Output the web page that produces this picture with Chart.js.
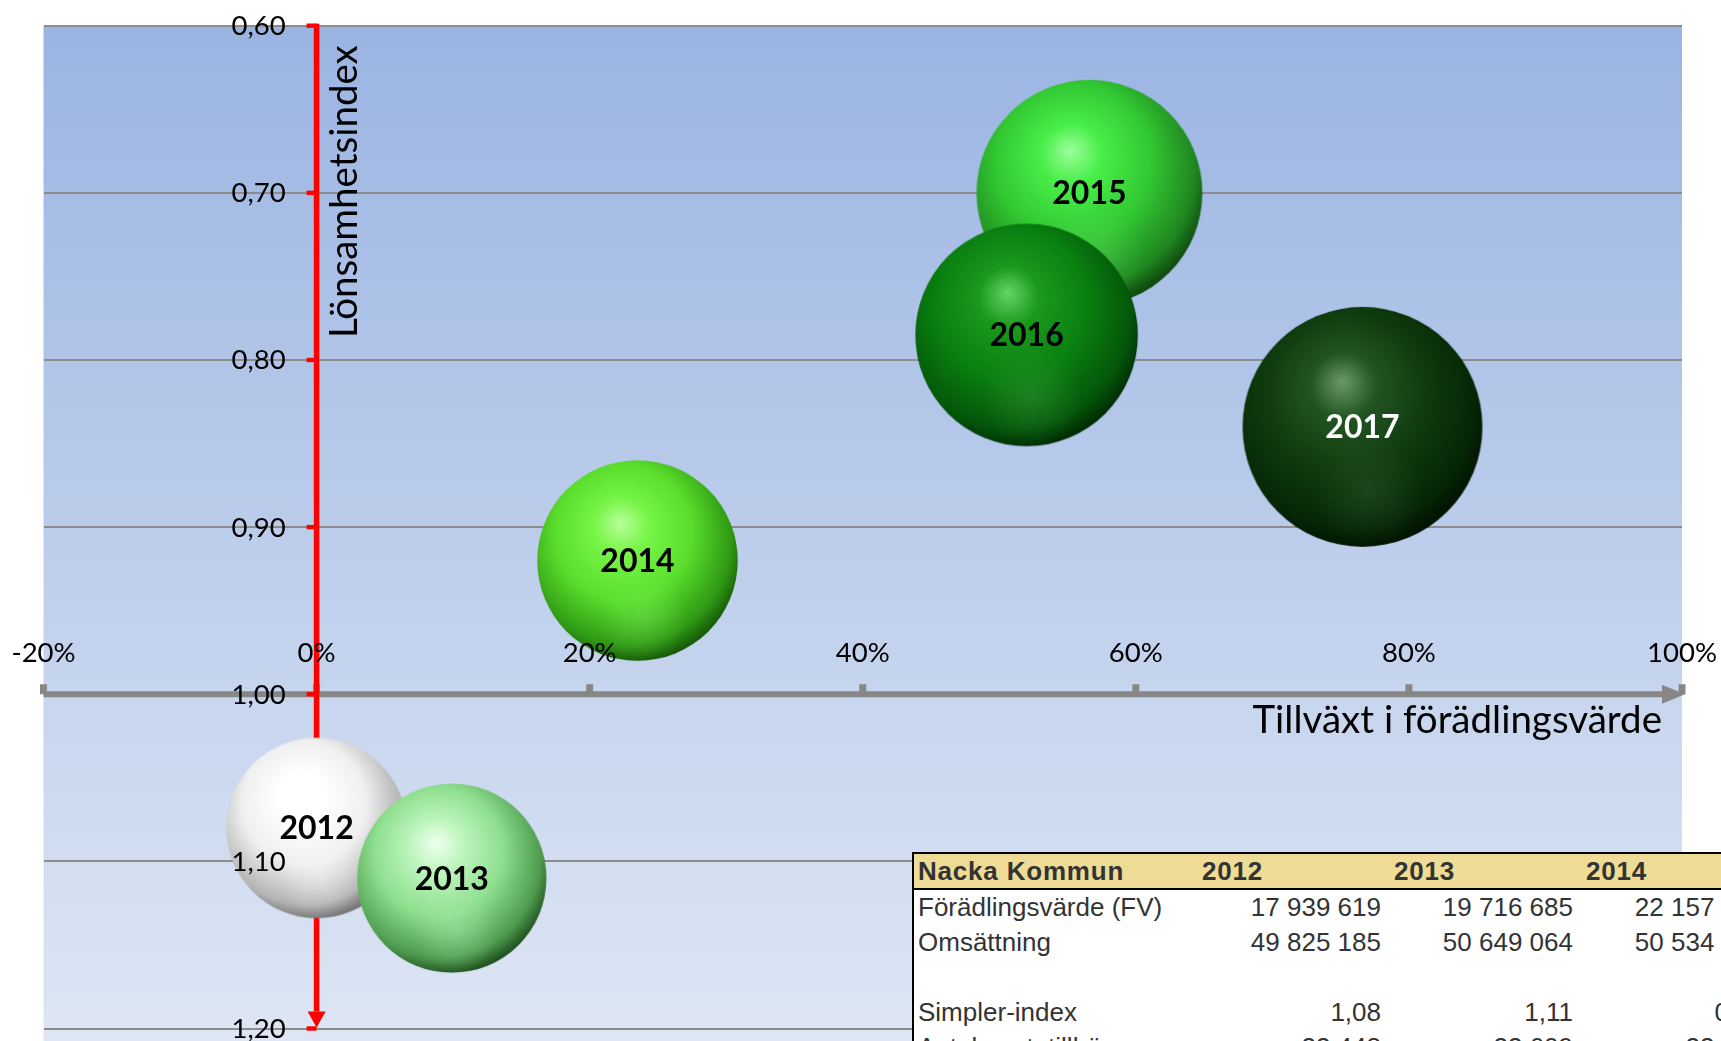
<!DOCTYPE html>
<html>
<head>
<meta charset="utf-8">
<script src="https://cdn.jsdelivr.net/npm/chart.js@4.4.1/dist/chart.umd.min.js"></script>
<style>
  html, body { margin:0; padding:0; width:1721px; height:1041px; overflow:hidden; background:#ffffff; }
  #wrap { position:relative; width:1721px; height:1041px; overflow:hidden; }
  #chart { position:absolute; left:0; top:0; }
  #tbl { position:absolute; left:912px; top:852px; width:855px; box-sizing:border-box;
         border-collapse:separate; border-spacing:0;
         table-layout:fixed; background:#ffffff; color:#333333;
         font-family:'Liberation Sans', Arial, sans-serif; font-size:26px;
         border-left:2px solid #000; border-top:2px solid #000; }
  #tbl th { height:34px; line-height:34px; padding:0; background:#eedc96; border-bottom:2px solid #000;
            text-align:left; font-weight:bold; white-space:nowrap; overflow:visible; letter-spacing:0.8px; }
  #tbl th.lab { padding-left:4px; }
  #tbl th.yr { padding-left:11px; }
  #tbl td { height:35px; line-height:35px; padding:0; white-space:nowrap; overflow:visible; }
  #tbl td.lab { padding-left:4px; text-align:left; }
  #tbl td.num { padding-right:2px; text-align:right; }
</style>
</head>
<body>
<div id="wrap">
  <canvas id="chart" width="1721" height="1041"></canvas>
  <table id="tbl"><colgroup><col style="width:277px"><col style="width:192px"><col style="width:192px"><col style="width:192px"></colgroup><thead></thead><tbody></tbody></table>
</div>
<script>
// ---------------- data ----------------
const years        = ['2012', '2013', '2014', '2015', '2016', '2017'];
const growthFV     = [0.000, 0.099, 0.235, 0.566, 0.520, 0.766];   // Tillväxt i förädlingsvärde (x)
const profitIndex  = [1.08, 1.11, 0.92, 0.70, 0.785, 0.84];       // Lönsamhetsindex (y)
const valueAddedM  = [17.94, 19.72, 22.16, 28.1, 27.3, 31.7];     // Förädlingsvärde, MSEK (bubble size)

const xTickValues  = [-0.2, 0, 0.2, 0.4, 0.6, 0.8, 1.0];
const xTickLabels  = ['-20%', '0%', '20%', '40%', '60%', '80%', '100%'];
const yTickValues  = [0.6, 0.7, 0.8, 0.9, 1.0, 1.1, 1.2];
const yTickLabels  = ['0,60', '0,70', '0,80', '0,90', '1,00', '1,10', '1,20'];

const xTitle = 'Tillväxt i förädlingsvärde';
const yTitle = 'Lönsamhetsindex';

// table
const tableTitle   = 'Nacka Kommun';
const tableYears   = ['2012', '2013', '2014'];
const rowFV        = ['17 939 619', '19 716 685', '22 157 835'];
const rowOms       = ['49 825 185', '50 649 064', '50 534 412'];
const rowSimpler   = ['1,08', '1,11', '0,92'];
const rowAntal     = ['23 448', '23 609', '23 912'];
const tableRows = [
  ['Förädlingsvärde (FV)', rowFV],
  ['Omsättning', rowOms],
  ['', ['', '', '']],
  ['Simpler-index', rowSimpler],
  ['Antal anst. tillhör.', rowAntal]
];

// ---------------- styles ----------------
const R_PER_ROOT = 21.3;  // bubble radius (px) per sqrt(MSEK)
const palettes = [
  { hi:'#ffffff', light:'#ffffff', base:'#f0f0f0', dark:'#b4b4b4', edge:'#6e6e6e', glow:'255,255,255', text:'#000' },
  { hi:'#f0fff0', light:'#bff6bf', base:'#8fdf8f', dark:'#4f9c4f', edge:'#1c4a1c', glow:'180,240,180', text:'#000' },
  { hi:'#b8ff9a', light:'#78f548', base:'#5ade2c', dark:'#2f9814', edge:'#145408', glow:'130,240,100', text:'#000' },
  { hi:'#9cff9c', light:'#48ee48', base:'#33c933', dark:'#208620', edge:'#0d440d', glow:'100,220,100', text:'#000' },
  { hi:'#66d466', light:'#1a9a1d', base:'#0a8010', dark:'#04560a', edge:'#012803', glow:'70,160,70', text:'#000' },
  { hi:'#6a996a', light:'#225522', base:'#0f3b0f', dark:'#062606', edge:'#001200', glow:'60,100,60', text:'#fff' }
];

function makeSphere(r, p) {
  const s = Math.ceil(2 * r) + 2;
  const c = document.createElement('canvas');
  c.width = s; c.height = s;
  const g = c.getContext('2d');
  const cx = s / 2, cy = s / 2;
  g.save();
  g.beginPath(); g.arc(cx, cy, r, 0, Math.PI * 2); g.closePath(); g.clip();
  const grd = g.createRadialGradient(cx - 0.17 * r, cy - 0.38 * r, 0, cx - 0.12 * r, cy - 0.2 * r, 1.24 * r);
  grd.addColorStop(0, p.hi);
  grd.addColorStop(0.22, p.light);
  grd.addColorStop(0.55, p.base);
  grd.addColorStop(0.86, p.dark);
  grd.addColorStop(1, p.edge);
  g.fillStyle = grd; g.fillRect(0, 0, s, s);
  const g2 = g.createRadialGradient(cx + 0.05 * r, cy + 0.55 * r, 0, cx + 0.05 * r, cy + 0.55 * r, 0.45 * r);
  g2.addColorStop(0, 'rgba(' + p.glow + ',0.35)');
  g2.addColorStop(1, 'rgba(' + p.glow + ',0)');
  g.fillStyle = g2; g.fillRect(0, 0, s, s);
  g.restore();
  return c;
}

const points = years.map((y, i) => ({ x: growthFV[i], y: profitIndex[i], r: R_PER_ROOT * Math.sqrt(valueAddedM[i]) }));
const spheres = points.map((pt, i) => makeSphere(pt.r, palettes[i]));

// ---------------- plugins ----------------
const FONT = 'Lato, "Open Sans", sans-serif';

const bgPlugin = {
  id: 'bg',
  beforeDraw(chart) {
    const { ctx, chartArea: a } = chart;
    const h = chart.height;
    const grd = ctx.createLinearGradient(0, a.top, 0, h);
    grd.addColorStop(0, '#9ab4e2');
    grd.addColorStop(1, '#dee6f4');
    ctx.save();
    ctx.fillStyle = grd;
    ctx.fillRect(a.left, a.top, a.right - a.left, h - a.top);
    ctx.restore();
  }
};

const axesPlugin = {
  id: 'axes',
  beforeDatasetsDraw(chart) {
    const { ctx, chartArea: a, scales: { x, y } } = chart;
    const axisY = y.getPixelForValue(1.0);
    const x0 = x.getPixelForValue(0);
    ctx.save();
    // grey x axis
    ctx.fillStyle = '#878787';
    const tip = a.right + 3, base = a.right - 20;
    ctx.fillRect(a.left, axisY - 3, base - a.left, 6);
    ctx.beginPath(); ctx.moveTo(base, axisY - 9.5); ctx.lineTo(tip, axisY); ctx.lineTo(base, axisY + 9.5); ctx.closePath(); ctx.fill();
    xTickValues.forEach(v => { const px = x.getPixelForValue(v); ctx.fillRect(px - 3.5, axisY - 10, 7, 10); });
    // red y axis
    ctx.fillStyle = '#ff0000';
    const top = y.getPixelForValue(yTickValues[0]);
    const bot = y.getPixelForValue(yTickValues[yTickValues.length - 1]);
    const aBase = bot - 17;
    ctx.fillRect(x0 - 2.8, top - 2, 5.6, aBase - top + 2);
    ctx.beginPath(); ctx.moveTo(x0 - 9, aBase); ctx.lineTo(x0, bot - 1); ctx.lineTo(x0 + 9, aBase); ctx.closePath(); ctx.fill();
    yTickValues.forEach(v => { const py = y.getPixelForValue(v); ctx.fillRect(x0 - 10, py - 2.2, 10, 4.4); });
    ctx.restore();
  },
  afterDatasetsDraw(chart) {
    const { ctx, chartArea: a, scales: { x, y } } = chart;
    const axisY = y.getPixelForValue(1.0);
    const x0 = x.getPixelForValue(0);
    ctx.save();
    // bubble labels
    const meta = chart.getDatasetMeta(0);
    ctx.font = 'bold 32px ' + FONT;
    ctx.textAlign = 'center'; ctx.textBaseline = 'alphabetic';
    meta.data.forEach((el, i) => {
      ctx.fillStyle = palettes[i].text;
      ctx.fillText(years[i], el.x, el.y + 11.5);
    });
    // x tick labels
    ctx.fillStyle = '#000';
    ctx.font = '27.5px ' + FONT;
    ctx.textAlign = 'center';
    xTickValues.forEach((v, i) => ctx.fillText(xTickLabels[i], x.getPixelForValue(v), axisY - 32));
    // y tick labels
    ctx.textAlign = 'right';
    yTickValues.forEach((v, i) => ctx.fillText(yTickLabels[i], x0 - 31, y.getPixelForValue(v) + 9.5));
    // axis titles
    ctx.font = '38.5px ' + FONT;
    ctx.textAlign = 'right';
    ctx.fillText(xTitle, a.right - 20, axisY + 39);
    ctx.save();
    ctx.translate(x0 + 40, a.top + 166);
    ctx.rotate(-Math.PI / 2);
    ctx.textAlign = 'center';
    ctx.fillText(yTitle, 0, 0);
    ctx.restore();
    ctx.restore();
  }
};

// ---------------- chart ----------------
new Chart(document.getElementById('chart').getContext('2d'), {
  type: 'bubble',
  data: {
    datasets: [{
      label: tableTitle,
      data: points,
      pointStyle: (c) => spheres[c.dataIndex],
      backgroundColor: palettes.map(p => p.base),
      borderWidth: 0,
      clip: false
    }]
  },
  options: {
    responsive: false,
    animation: false,
    events: [],
    layout: { autoPadding: false, padding: { left: 43.5, right: 39, top: 25.7, bottom: 12.5 } },
    plugins: { legend: { display: false }, tooltip: { enabled: false } },
    scales: {
      x: { type: 'linear', min: -0.2, max: 1.0, display: false },
      y: {
        type: 'linear', min: 0.6, max: 1.2, reverse: true,
        ticks: { display: false, stepSize: 0.1 },
        grid: { color: '#8c8c8c', lineWidth: 2, drawTicks: false },
        border: { display: false }
      }
    }
  },
  plugins: [bgPlugin, axesPlugin]
});

// ---------------- table ----------------
(function buildTable() {
  const tbl = document.getElementById('tbl');
  const thead = tbl.querySelector('thead');
  const tbody = tbl.querySelector('tbody');
  let h = '<tr><th class="lab">' + tableTitle + '</th>';
  tableYears.forEach(yv => { h += '<th class="yr">' + yv + '</th>'; });
  thead.innerHTML = h + '</tr>';
  let b = '';
  tableRows.forEach(([lab, vals]) => {
    b += '<tr><td class="lab">' + (lab || '&nbsp;') + '</td>';
    vals.forEach(v => { b += '<td class="num">' + (v || '&nbsp;') + '</td>'; });
    b += '</tr>';
  });
  tbody.innerHTML = b;
})();
</script>
</body>
</html>
